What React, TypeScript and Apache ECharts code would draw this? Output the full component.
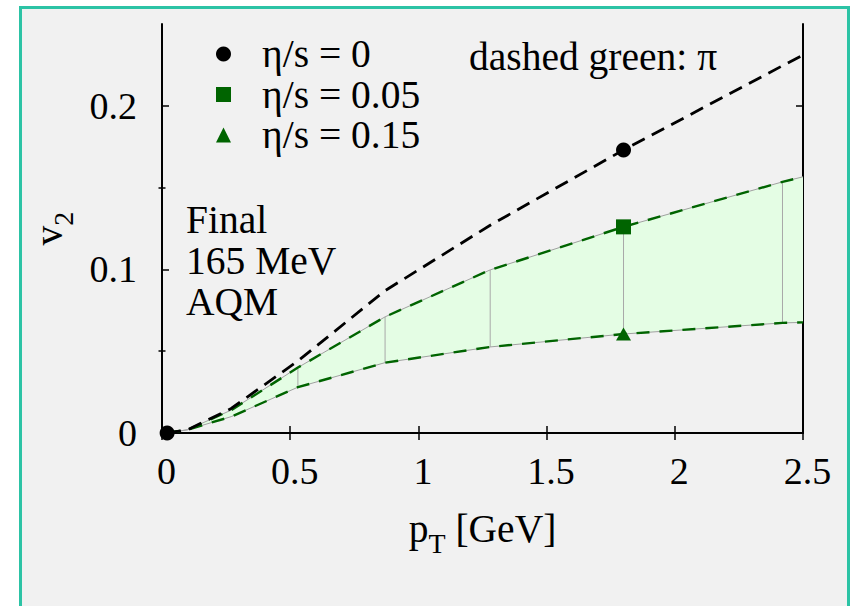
import React, { useEffect, useRef } from "react";
import * as echarts from "echarts";

// ---- data ----
const pT = [0.02, 0.1, 0.27, 0.53, 0.87, 1.28, 1.8, 2.42, 2.5];
const v2Ideal = [0, 0.002, 0.015, 0.044, 0.087, 0.127, 0.173, 0.2245, 0.231];
const v2Eta005 = [0, 0.002, 0.014, 0.04, 0.071, 0.0997, 0.126, 0.1535, 0.1566];
const v2Eta015 = [0, 0.002, 0.01, 0.028, 0.043, 0.0526, 0.0605, 0.0673, 0.0676];
const idealMarkerIdx = [0, 6];
const viscMarkerIdx = [6];
const rungIdx = [3, 4, 5, 6, 7];
const legendLabels = ["η/s = 0", "η/s = 0.05", "η/s = 0.15"];
const yLabelValues = [0, 0.1, 0.2];
const yMinorValues = [0.05, 0.15];
const annotation = "dashed green: π";
const infoLines = ["Final", "165 MeV", "AQM"];

const FONT = "Liberation Serif";
const GREEN = "#006400";
const FS = 38;
const FS_TEXT = 39.5;

export default function App() {
  const ref = useRef<HTMLDivElement>(null);
  useEffect(() => {
    const chart = echarts.init(ref.current!, null, { renderer: "svg" });
    const pts = (ys: number[]) => pT.map((x, i) => [x, ys[i]]);
    const rich = {
      n: { fontSize: FS_TEXT, fontFamily: FONT, color: "#000", lineHeight: 56 },
      s: { fontSize: 28, fontFamily: FONT, color: "#000", lineHeight: 28, verticalAlign: "bottom" },
    };
    const xBase = {
      type: "value",
      min: 0,
      max: 2.5,
      interval: 0.5,
      splitLine: { show: false },
      axisLine: { show: true, lineStyle: { color: "#000", width: 2 } },
      axisTick: { show: true, inside: true, length: 7, lineStyle: { color: "#000", width: 1.5 } },
    };
    const yBase = {
      type: "value",
      min: 0,
      max: 0.25,
      interval: 0.05,
      splitLine: { show: false },
      axisLine: { show: true, onZero: false, lineStyle: { color: "#000", width: 2 } },
    };
    const option: any = {
      animation: false,
      textStyle: { fontFamily: FONT },
      graphic: [
        {
          type: "rect",
          z: -10,
          silent: true,
          shape: { x: 20.5, y: 7.5, width: 828, height: 620 },
          style: { fill: "#f1f1f1", stroke: "#2cc3a5", lineWidth: 3 },
        },
        {
          type: "text",
          z: 10,
          x: 469,
          y: 57,
          style: { text: annotation, fontSize: FS_TEXT, fontFamily: FONT, fill: "#000", verticalAlign: "middle", align: "left" },
        },
        {
          type: "text",
          z: 10,
          x: 186,
          y: 199.5,
          style: { text: infoLines.join("\n"), fontSize: FS_TEXT, fontFamily: FONT, fill: "#000", lineHeight: 41, verticalAlign: "top", align: "left" },
        },
      ],
      grid: { left: 162, right: 47, top: 24, bottom: 173, containLabel: false },
      legend: {
        orient: "vertical",
        left: 216,
        top: 34,
        padding: 0,
        itemGap: 0.5,
        itemWidth: 15,
        itemHeight: 15,
        selectedMode: false,
        textStyle: { fontSize: FS_TEXT, fontFamily: FONT, color: "#000", lineHeight: 38, padding: [0, 0, 0, 26] },
        data: [
          { name: legendLabels[0], icon: "circle", itemStyle: { color: "#000", opacity: 1 } },
          { name: legendLabels[1], icon: "rect", itemStyle: { color: GREEN, opacity: 1 } },
          { name: legendLabels[2], icon: "triangle", itemStyle: { color: GREEN, opacity: 1 } },
        ],
      },
      xAxis: [
        {
          ...xBase,
          position: "bottom",
          name: "{n|p}{s|T}{n| [GeV]}",
          nameLocation: "middle",
          nameGap: 68,
          nameTextStyle: { rich },
          axisLabel: {
            show: true,
            margin: 19,
            fontSize: FS,
            fontFamily: FONT,
            color: "#000",
            padding: [0, 0, 0, 9],
            formatter: (v: number) => String(v),
          },
        },
        { ...xBase, position: "top", axisLabel: { show: false } },
      ],
      yAxis: [
        {
          ...yBase,
          position: "left",
          name: "{n|v}{s|2}",
          nameLocation: "middle",
          nameRotate: 90,
          nameGap: 85,
          nameTextStyle: { rich },
          axisTick: { show: true, inside: true, length: 7, customValues: yLabelValues, lineStyle: { color: "#000", width: 1.5 } },
          axisLabel: {
            show: true,
            margin: 25,
            fontSize: FS,
            fontFamily: FONT,
            color: "#000",
            customValues: yLabelValues,
            formatter: (v: number) => String(v),
          },
        },
        {
          ...yBase,
          position: "left",
          axisLine: { show: false },
          axisTick: { show: true, inside: true, length: 3.5, customValues: yMinorValues, lineStyle: { color: "#000", width: 1.5 } },
          axisLabel: { show: false },
        },
        {
          ...yBase,
          position: "right",
          axisTick: { show: true, inside: true, length: 7, customValues: yLabelValues, lineStyle: { color: "#000", width: 1.5 } },
          axisLabel: { show: false },
        },
        {
          ...yBase,
          position: "right",
          axisLine: { show: false },
          axisTick: { show: true, inside: true, length: 3.5, customValues: yMinorValues, lineStyle: { color: "#000", width: 1.5 } },
          axisLabel: { show: false },
        },
      ],
      series: [
        {
          type: "custom",
          name: "band",
          silent: true,
          z: 1,
          encode: { x: 0, y: 1 },
          data: [[pT[0], v2Eta015[0]]],
          renderItem: (_p: any, api: any) => {
            const upper = pT.map((x, i) => api.coord([x, v2Eta005[i]]));
            const lower = pT.map((x, i) => api.coord([x, v2Eta015[i]])).reverse();
            return {
              type: "polygon",
              shape: { points: upper.concat(lower) },
              style: { fill: "#e4fde4", stroke: "none" },
            };
          },
        },
        {
          type: "custom",
          name: "rungs",
          silent: true,
          z: 2,
          encode: { x: 0, y: [1, 2] },
          data: rungIdx.map((i) => [pT[i], v2Eta015[i], v2Eta005[i]]),
          renderItem: (_p: any, api: any) => {
            const a = api.coord([api.value(0), api.value(1)]);
            const b = api.coord([api.value(0), api.value(2)]);
            return {
              type: "line",
              shape: { x1: a[0], y1: a[1], x2: b[0], y2: b[1] },
              style: { stroke: "#a8a8a8", lineWidth: 1 },
            };
          },
        },
        {
          type: "line",
          name: "upperOutline",
          data: pts(v2Eta005),
          symbol: "none",
          silent: true,
          lineStyle: { color: "#a0a0a0", width: 1 },
          z: 2,
        },
        {
          type: "line",
          name: "lowerOutline",
          data: pts(v2Eta015),
          symbol: "none",
          silent: true,
          lineStyle: { color: "#a0a0a0", width: 1 },
          z: 2,
        },
        {
          type: "line",
          name: "upperDashed",
          data: pts(v2Eta005),
          symbol: "none",
          silent: true,
          lineStyle: { color: GREEN, width: 2.4, type: [13, 10] },
          z: 3,
        },
        {
          type: "line",
          name: "lowerDashed",
          data: pts(v2Eta015),
          symbol: "none",
          silent: true,
          lineStyle: { color: GREEN, width: 2.4, type: [13, 10] },
          z: 3,
        },
        {
          type: "line",
          name: "idealDashed",
          data: pts(v2Ideal),
          symbol: "none",
          silent: true,
          lineStyle: { color: "#000", width: 2.8, type: [14, 8] },
          z: 3,
        },
        {
          type: "scatter",
          name: legendLabels[0],
          symbol: "circle",
          symbolSize: 15,
          itemStyle: { color: "#000", opacity: 1 },
          data: idealMarkerIdx.map((i) => [pT[i], v2Ideal[i]]),
          z: 5,
        },
        {
          type: "scatter",
          name: legendLabels[1],
          symbol: "rect",
          symbolSize: 15,
          itemStyle: { color: GREEN, opacity: 1 },
          data: viscMarkerIdx.map((i) => [pT[i], v2Eta005[i]]),
          z: 5,
        },
        {
          type: "scatter",
          name: legendLabels[2],
          symbol: "triangle",
          symbolSize: [15, 13],
          itemStyle: { color: GREEN, opacity: 1 },
          data: viscMarkerIdx.map((i) => [pT[i], v2Eta015[i]]),
          z: 5,
        },
      ],
    };
    chart.setOption(option);
    return () => chart.dispose();
  }, []);
  return <div ref={ref} style={{ position: "absolute", left: 0, top: 0, width: 850, height: 606 }} />;
}
